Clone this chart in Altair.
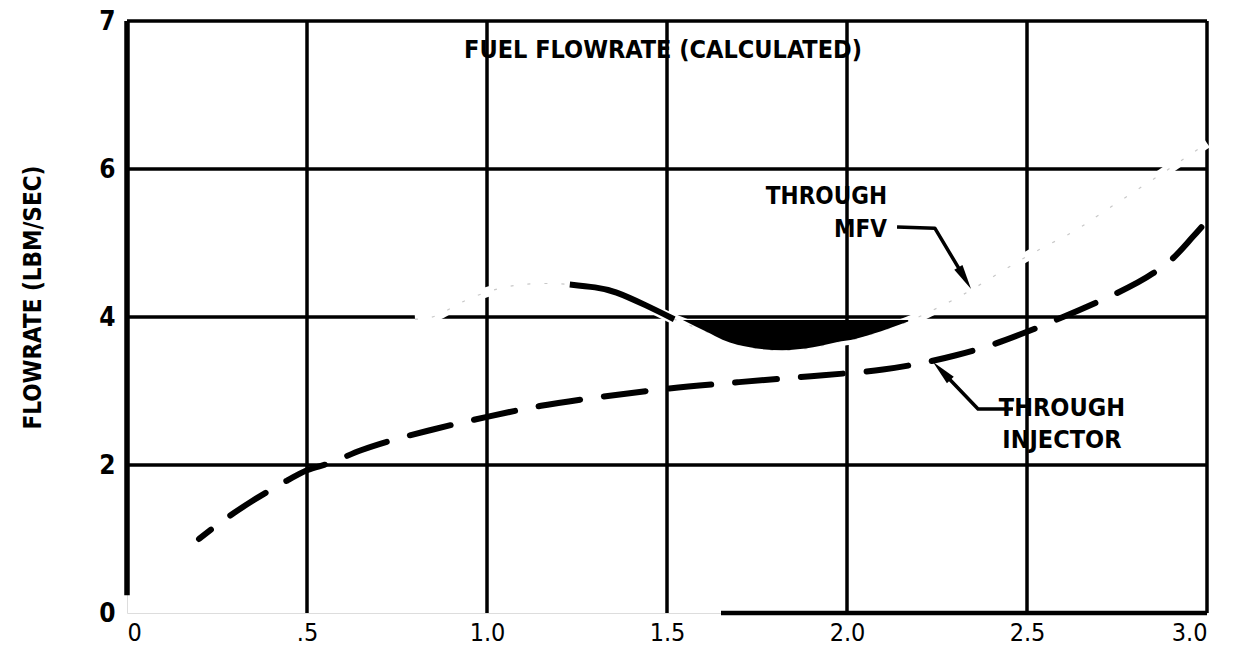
import altair as alt
import pandas as pd

FONT = "DejaVu Sans Condensed, Liberation Sans Narrow, Roboto Condensed, sans-serif"

# ---- grid / frame ----
vgrid_x = [0.5, 1.0, 1.5, 2.0, 2.5, 3.0]
hgrid_y = [2, 4, 6, 8]
x_ticks = [0, 0.5, 1.0, 1.5, 2.0, 2.5, 3.0]
y_ticks = [0, 2, 4, 6, 8]

# ---- fuel flowrate through injector (dashed) ----
inj_x = [0.2, 0.27, 0.35, 0.43, 0.5, 0.56, 0.65, 0.74, 0.85, 1.0, 1.15, 1.3, 1.5,
         1.7, 1.9, 2.0, 2.1, 2.2, 2.3, 2.4, 2.5, 2.6, 2.69, 2.74, 2.85, 2.9, 2.96, 3.0]
inj_y = [1.0, 1.26, 1.52, 1.75, 1.93, 2.02, 2.2, 2.34, 2.48, 2.65, 2.8, 2.91, 3.03,
         3.12, 3.2, 3.24, 3.29, 3.37, 3.48, 3.62, 3.8, 4.0, 4.19, 4.3, 4.59, 4.77, 5.08, 5.3]

# ---- fuel flowrate through MFV (faint full trace) ----
mfv_x = [0.8, 0.86, 0.93, 1.03, 1.13, 1.23, 1.3, 1.36, 1.44, 1.52, 1.61, 1.66, 1.73,
         1.82, 1.91, 1.98, 2.02, 2.07, 2.17, 2.25, 2.35, 2.5, 2.62, 2.7, 2.8, 2.9, 3.0]
mfv_y = [3.97, 4.02, 4.2, 4.38, 4.45, 4.44, 4.4, 4.33, 4.16, 3.97, 3.8, 3.69, 3.59,
         3.55, 3.59, 3.67, 3.7, 3.77, 3.94, 4.12, 4.38, 4.82, 5.13, 5.38, 5.7, 6.02, 6.35]

# visible solid part of MFV curve
mfv_solid_x = [1.23, 1.3, 1.36, 1.44, 1.52]
mfv_solid_y = [4.44, 4.4, 4.33, 4.16, 3.97]

# dark filled band under the 4.0 level
blob_x = [1.544, 1.61, 1.656, 1.73, 1.82, 1.906, 1.98, 2.02, 2.07, 2.17]
blob_low = [3.96, 3.8, 3.69, 3.59, 3.55, 3.59, 3.67, 3.7, 3.77, 3.94]
blob_top = 3.96

# ---- annotations ----
lead_grp = ["mfv", "mfv", "mfv", "inj", "inj", "inj"]
lead_x = [2.139, 2.244, 2.327, 2.461, 2.364, 2.263]
lead_y = [5.216, 5.20, 4.524, 2.757, 2.757, 3.27]
arrow_x = [2.327, 2.263]
arrow_y = [4.524, 3.27]
arrow_angle = [149.5, 316]

center_txt = ["FUEL FLOWRATE (CALCULATED)", "THROUGH", "INJECTOR"]
center_x = [1.489, 2.597, 2.597]
center_y = [7.61, 2.77, 2.34]
right_txt = ["THROUGH", "MFV"]
right_x = [2.111, 2.111]
right_y = [5.62, 5.18]

XS = alt.Scale(domain=[0, 3], nice=False, zero=False)
YS = alt.Scale(domain=[0, 8], nice=False, zero=False)

x_axis = alt.Axis(values=x_ticks, title=None, grid=False, ticks=False, domain=False,
                  labelExpr="datum.value == 0 ? '0' : (datum.value == 0.5 ? '.5' : format(datum.value, '.1f'))",
                  labelFontSize=25, labelFont=FONT, labelColor="black", labelPadding=7,
                  labelFontWeight="normal")
y_axis = alt.Axis(values=y_ticks, grid=False, ticks=False, domain=False,
                  labelExpr="datum.value == 8 ? '7' : datum.label",
                  labelFontSize=26, labelFont=FONT, labelColor="black", labelPadding=12,
                  labelFontWeight="bold",
                  title="FLOWRATE (LBM/SEC)", titleFont=FONT, titleFontSize=24,
                  titleFontWeight="bold", titleColor="black",
                  titleX=-94, titleY=276, titleAlign="center", titleBaseline="middle")


def X(f):
    return alt.X(f, type="quantitative", scale=XS, axis=x_axis)


def Y(f):
    return alt.Y(f, type="quantitative", scale=YS, axis=y_axis)


vg = pd.DataFrame({"x": vgrid_x, "y0": [0] * len(vgrid_x), "y1": [8] * len(vgrid_x)})
hg = pd.DataFrame({"y": hgrid_y, "x0": [0] * len(hgrid_y), "x1": [3] * len(hgrid_y)})
left = pd.DataFrame({"x": [0], "y0": [0.24], "y1": [8]})
bottom = pd.DataFrame({"y": [0], "x0": [1.65], "x1": [3.0]})
inj = pd.DataFrame({"x": inj_x, "y": inj_y})
mfv = pd.DataFrame({"x": mfv_x, "y": mfv_y})
solid = pd.DataFrame({"x": mfv_solid_x, "y": mfv_solid_y})
blob = pd.DataFrame({"x": blob_x, "y": blob_low, "y2": [blob_top] * len(blob_x)})
lead = pd.DataFrame({"g": lead_grp, "x": lead_x, "y": lead_y, "i": list(range(len(lead_x)))})
arr = pd.DataFrame({"x": arrow_x, "y": arrow_y, "a": arrow_angle})
tc = pd.DataFrame({"t": center_txt, "x": center_x, "y": center_y})
tr = pd.DataFrame({"t": right_txt, "x": right_x, "y": right_y})

vgrid = alt.Chart(vg).mark_rule(color="black", strokeWidth=3.5).encode(
    x=X("x"), y=Y("y0"), y2="y1")
hgrid = alt.Chart(hg).mark_rule(color="black", strokeWidth=3.5).encode(
    y=Y("y"), x=X("x0"), x2="x1")
leftb = alt.Chart(left).mark_rule(color="black", strokeWidth=5.5).encode(
    x=X("x"), y=Y("y0"), y2="y1")
botb = alt.Chart(bottom).mark_rule(color="black", strokeWidth=4.5).encode(
    y=Y("y"), x=X("x0"), x2="x1")

mfv_white = alt.Chart(mfv).mark_line(color="white", strokeWidth=10, interpolate="natural").encode(
    x=X("x"), y=Y("y"))
mfv_faint = alt.Chart(mfv).mark_line(color="#c8c8c8", strokeWidth=1.2, strokeDash=[3, 14],
                                     interpolate="natural").encode(x=X("x"), y=Y("y"))
mfv_solid = alt.Chart(solid).mark_line(color="black", strokeWidth=6, interpolate="natural").encode(
    x=X("x"), y=Y("y"))
blob_area = alt.Chart(blob).mark_area(color="black", interpolate="monotone").encode(
    x=X("x"), y=Y("y"), y2="y2")
inj_line = alt.Chart(inj).mark_line(color="black", strokeWidth=6, strokeDash=[42, 24],
                                    strokeDashOffset=27, strokeCap="round",
                                    interpolate="monotone").encode(x=X("x"), y=Y("y"))
leaders = alt.Chart(lead).mark_line(color="black", strokeWidth=3.5, strokeJoin="round").encode(
    x=X("x"), y=Y("y"), detail="g:N", order="i:Q")
arrows = alt.Chart(arr).mark_point(shape="M0,-1L0.38,1L-0.38,1Z", size=625, filled=True,
                                   color="black", opacity=1, strokeWidth=0).encode(
    x=X("x"), y=Y("y"), angle=alt.Angle("a:Q", scale=None))
texts_c = alt.Chart(tc).mark_text(font=FONT, fontSize=25, fontWeight="bold", color="black",
                                  baseline="middle", align="center").encode(
    x=X("x"), y=Y("y"), text="t:N")
texts_r = alt.Chart(tr).mark_text(font=FONT, fontSize=24, fontWeight="bold", color="black",
                                  baseline="middle", align="right").encode(
    x=X("x"), y=Y("y"), text="t:N")

chart = alt.layer(vgrid, hgrid, leftb, botb, mfv_white, mfv_faint, blob_area, mfv_solid,
                  inj_line, leaders, arrows, texts_c, texts_r).properties(
    width=1080, height=592,
    autosize=alt.AutoSizeParams(type="none"),
    padding={"left": 119, "top": 13, "right": 22, "bottom": 35},
).configure_view(stroke=None).configure(background="white")

chart.save("out.html", embed_options={"renderer": "svg", "actions": False})
